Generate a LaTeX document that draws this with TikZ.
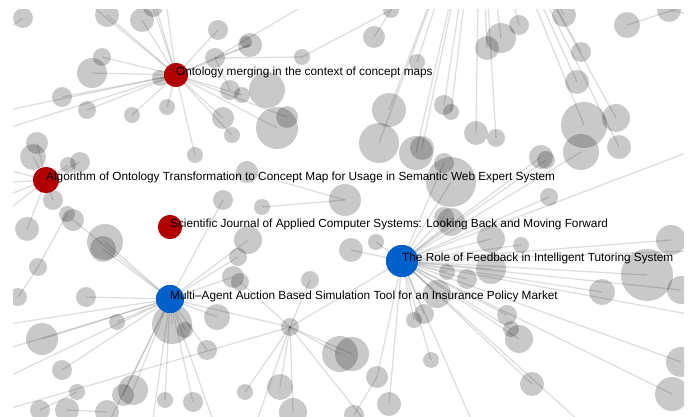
\documentclass[tikz,border=0pt]{standalone}
\usepackage{fontspec}
\setmainfont{Liberation Sans}
\definecolor{nodered}{RGB}{178,0,0}
\definecolor{nodeblue}{RGB}{0,96,204}
\tikzset{
  gc/.style={circle,inner sep=0pt,fill=black,fill opacity=0.21,draw=none},
  edge/.style={draw=black,draw opacity=0.13,line width=1.3pt},
  rednode/.style={circle,inner sep=0pt,fill=nodered,draw=none},
  bluenode/.style={circle,inner sep=0pt,fill=nodeblue,draw=none},
  lbl/.style={anchor=west,inner sep=0pt,font=\fontsize{11.8}{14}\selectfont,text=black}
}
\begin{document}
\begin{tikzpicture}[x=1pt,y=-1pt]
\useasboundingbox (0,0) rectangle (688,417);
\begin{scope}
\clip (13,10) rectangle (684,417);
% grey circles
\foreach \n/\x/\y/\r in {
g1/23/18/10, g2/107/15/12, g3/142/20/12, g4/153/7/10, g5/218/30/10, g6/250/45/12, g7/246/42/6,
G/215/58/10, g9/302/57/8, g10/102/57/9, g11/92/73/15, g12/160/78/8, g13/230/90/10, g14/242/95/8,
g15/267/90/18, g16/62/97/10, g17/87/110/9, g18/132/115/8, g19/167/107/8, g20/223/118/11,
g21/287/117/11, g22/277/128/21, g23/232/135/8, g24/37/143/11, g25/33/157/13, g26/80/162/10,
g27/68/165/8, g28/195/155/8, g29/247/172/11, g30/345/200/16, g31/53/200/10, g32/223/200/10,
g33/262/207/8, g34/391/10/8, g35/374/37/11, g36/417/62/8, g37/501/38/15, g38/487/48/12,
g39/519/25/10, g40/564/15/12, g41/627/25/13, g42/669/10/12, g43/581/52/10, g44/577/82/12,
g45/389/110/17, g46/444/105/10, g47/451/112/8, g48/584/125/23, g49/616/118/14, g50/619/147/12,
g51/581/152/18, g52/379/143/20, g53/416/153/17, g54/422/148/12, g55/476/133/12, g56/496/138/9,
g57/444/163/10, g58/451/182/25, g59/541/157/12, g60/546/160/9, g61/549/197/9,
g62/27/229/12, g63/73/220/11, g64/67/214/8, g65/105/242/18, g66/103/249/13, g67/38/267/9,
g68/18/297/9, g69/86/297/10, g70/42/339/16, g71/117/322/8, g72/172/324/20, g73/185/330/8,
g74/248/240/14, g75/238/257/9, g76/233/277/11, g77/240/282/9, g78/310/280/9, g79/217/317/13,
g80/207/350/10, F/290/327/9, g81/340/354/18, g82/62/370/10, g83/133/390/15, g84/123/395/11,
g85/77/392/8, g86/165/400/8, g87/193/402/10, g88/245/392/8, g89/280/387/13, g90/40/410/10,
g91/67/410/12, g92/107/412/12, g93/293/412/14,
g94/451/222/14, g95/444/217/10, g96/491/239/14, g97/521/245/8, g98/671/240/15, g99/647/275/26,
g100/681/290/14, g101/602/292/13, g102/491/269/15, g103/447/272/8, g104/467/279/10,
g105/351/250/12, g106/376/242/8, g107/437/294/14, g108/414/320/8, g109/424/314/10,
g110/507/315/10, g111/511/329/8, g112/519/339/14, g113/352/354/17, g114/431/360/8,
g115/377/377/11, g116/532/384/12, g117/681/362/15, g118/672/394/17, g119/389/404/12, g120/354/415/10}
  \node[gc,minimum size=2*\r pt] (\n) at (\x,\y) {};
% coloured nodes (defined for edges)
\node[rednode,minimum size=24pt] (A) at (176,75) {};
\node[rednode,minimum size=26pt] (B) at (46,180) {};
\node[rednode,minimum size=24pt] (C) at (170,227) {};
\node[bluenode,minimum size=32pt] (D) at (402,261) {};
\node[bluenode,minimum size=28pt] (E) at (170,299) {};
% off-canvas ends
\coordinate (T) at (480,-130);
\coordinate (oA1) at (-30,118); \coordinate (oA2) at (-30,140); \coordinate (oA3) at (148,-20);
\coordinate (oA4) at (163,-20); \coordinate (oA5) at (60,-20); \coordinate (oG1) at (330,-10);
\coordinate (oB1) at (-30,160); \coordinate (oB2) at (-30,185); \coordinate (oB3) at (-30,210);
\coordinate (oB4) at (-30,240);
\coordinate (oE1) at (-30,330); \coordinate (oE2) at (-30,360); \coordinate (oE3) at (-30,395);
\coordinate (oE4) at (100,440); \coordinate (oE5) at (150,440); \coordinate (oE6) at (220,440);
\coordinate (oF1) at (380,440); \coordinate (oF2) at (250,440); \coordinate (oF3) at (-30,420);
\coordinate (oD1) at (720,140); \coordinate (oD2) at (720,250); \coordinate (oD3) at (720,320);
\coordinate (oD4) at (600,440); \coordinate (oD5) at (480,440);
\coordinate (oM1) at (0,35); \coordinate (oM2) at (720,-5); \coordinate (oM3) at (720,20);
% edges
\foreach \t in {g2,g3,g4,g5,g6,g10,g11,g12,g16,g17,g18,g19,g20,g14,g23,g22,g21,g28,G,oA1,oA2,oA3,oA4,oA5}
  \draw[edge] (A.center) -- (\t.center);
\foreach \t in {g9,g6,g13,oG1} \draw[edge] (G.center) -- (\t.center);
\foreach \t in {g24,g25,g26,g27,g31,g62,oB1,oB2,oB3,oB4} \draw[edge] (B.center) -- (\t.center);
\foreach \t in {g65,g66,g63,g69,g70,g71,g72,g73,g79,g80,g74,g75,g76,F,g83,g84,g86,g87,g82,g32,oE1,oE2,oE3,oE4,oE5,oE6}
  \draw[edge] (E.center) -- (\t.center);
\foreach \t in {g78,g81,g113,g89,g88,g93,g77,oF1,oF2,oF3,D} \draw[edge] (F.center) -- (\t.center);
\foreach \t in {g94,g95,g96,g97,g98,g99,g100,g101,g102,g103,g104,g105,g106,g107,g108,g109,g110,g111,g112,g116,g117,g118,g114,g119,g115,g58,g59,g60,g61,g51,g57,oD1,oD2,oD3,oD4,oD5}
  \draw[edge] (D.center) -- (\t.center);
\foreach \t in {g35,g36,g37,g38,g39,g43,g44,g45,g46,g47,g52,g53,g54,g55,g56,g48,g49,g50,g40}
  \draw[edge] (T) -- (\t.center);
\draw[edge] (g1.center) -- (oM1);
\draw[edge] (g41.center) -- (oM2);
\draw[edge] (g42.center) -- (oM3);
\draw[edge] (g30.center) -- (g29.center);
\draw[edge] (g64.center) -- (g67.center);
\draw[edge] (g34.center) -- (g9.center);
\draw[edge] (g33.center) -- (g30.center);
\draw[edge] (g85.center) -- (g90.center);
\draw[edge] (g91.center) -- (g92.center);
\draw[edge] (g68.center) -- (g67.center);
\draw[edge] (g120.center) -- (g115.center);
\end{scope}
% coloured nodes on top
\node[rednode,minimum size=24pt] at (A) {};
\node[rednode,minimum size=26pt] at (B) {};
\node[rednode,minimum size=24pt] at (C) {};
\node[bluenode,minimum size=32pt] at (D) {};
\node[bluenode,minimum size=28pt] at (E) {};
% labels
\node[lbl] (lA) at ([yshift=2.5pt]A.center) {Ontology merging in the context of concept maps};
\node[lbl] (lB) at ([yshift=2.5pt]B.center) {Algorithm of Ontology Transformation to Concept Map for Usage in Semantic Web Expert System};
\node[lbl] (lC) at ([yshift=2.5pt]C.center) {Scientific Journal of Applied Computer Systems: Looking Back and Moving Forward};
\node[lbl] (lD) at ([yshift=2.5pt]D.center) {The Role of Feedback in Intelligent Tutoring System};
\node[lbl] (lE) at ([yshift=2.5pt]E.center) {Multi–Agent Auction Based Simulation Tool for an Insurance Policy Market};
\end{tikzpicture}
\end{document}
